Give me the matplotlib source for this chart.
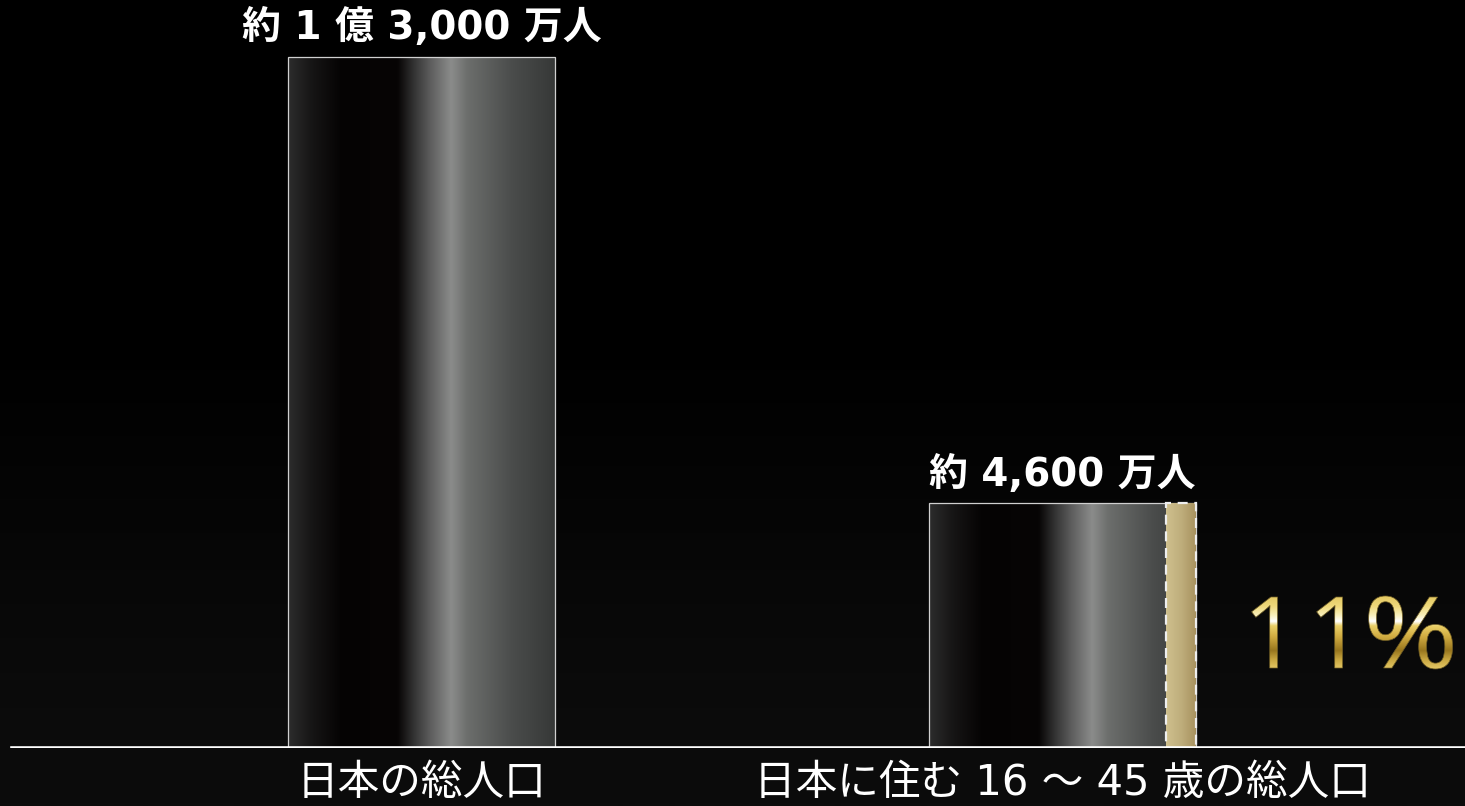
import numpy as np
import matplotlib
matplotlib.use("Agg")
import matplotlib.pyplot as plt
from matplotlib.colors import LinearSegmentedColormap
from matplotlib.patches import Rectangle, PathPatch
from matplotlib.textpath import TextPath
from matplotlib.font_manager import FontProperties
from matplotlib.transforms import Affine2D

# ---- data -------------------------------------------------------------
categories = ["日本の総人口", "日本に住む 16 ～ 45 歳の総人口"]
populations = [13000, 4600]          # 万人
value_labels = ["約 1 億 3,000 万人", "約 4,600 万人"]
share_pct = 11                       # share highlighted on the second bar
share_label = "11%"

# ---- figure -----------------------------------------------------------
W, H, DPI = 1465, 806, 100
fig = plt.figure(figsize=(W / DPI, H / DPI), dpi=DPI)
fig.patch.set_facecolor("black")

JP = "Noto Sans CJK JP"

# background: black fading to a very dark grey towards the floor
bg = fig.add_axes([0, 0, 1, 1], zorder=0)
bg.axis("off")
bg_cmap = LinearSegmentedColormap.from_list(
    "bg", [(0.0, "#000000"), (0.42, "#000000"), (0.62, "#050505"),
           (0.88, "#0b0b0b"), (1.0, "#0c0c0c")])
bg.imshow(np.linspace(0, 1, 400).reshape(-1, 1), aspect="auto", cmap=bg_cmap,
          extent=[0, 1, 0, 1], origin="upper", interpolation="bilinear")
bg.set_xlim(0, 1)
bg.set_ylim(0, 1)

# main plotting axes
base_px = 748
ax = fig.add_axes([0, (H - base_px) / H, 1, base_px / H], zorder=1)
ax.axis("off")
ax.patch.set_alpha(0)
ymax = populations[0] * base_px / 691
xlim = (-0.658, 1.629)
ax.set_xlim(*xlim)
ax.set_ylim(0, ymax)

x = np.arange(len(categories))
bar_w = 0.417

# metallic horizontal gradient used on both bars
metal = LinearSegmentedColormap.from_list(
    "metal", [(0.00, "#2c2c2c"), (0.09, "#161515"), (0.20, "#050303"),
              (0.41, "#070505"), (0.47, "#333333"), (0.53, "#5c5c5c"),
              (0.61, "#8b8c8b"), (0.67, "#6c6e6c"), (0.84, "#4a4c4b"),
              (1.00, "#363837")])
gold_strip = LinearSegmentedColormap.from_list(
    "gold_strip", ["#cfc08e", "#bfae7c", "#a8925f"])
row = np.linspace(0, 1, 512).reshape(1, -1)

bars = ax.bar(x, populations, width=bar_w, facecolor="none",
              edgecolor="#d0d0d0", linewidth=0.9, zorder=3)
for rect in bars:
    x0, w, h = rect.get_x(), rect.get_width(), rect.get_height()
    ax.imshow(row, cmap=metal, aspect="auto", extent=[x0, x0 + w, 0, h],
              interpolation="bilinear", zorder=2)

# highlighted share on the second bar
r2 = bars[1]
x0, w, h = r2.get_x(), r2.get_width(), r2.get_height()
sw = w * share_pct / 100
ax.imshow(row, cmap=gold_strip, aspect="auto",
          extent=[x0 + w - sw, x0 + w, 0, h], interpolation="bilinear", zorder=4)
ax.add_patch(Rectangle((x0 + w - sw, 0), sw, h, facecolor="none",
                       edgecolor="#eeeeee", linewidth=1.6,
                       linestyle=(0, (4.5, 3.0)), zorder=5))
ax.set_xlim(*xlim)
ax.set_ylim(0, ymax)

# floor line
ax.axhline(0, xmin=12 / W, xmax=1, color="white", linewidth=2.6, zorder=6)

# value labels above bars
for xi, v, lab in zip(x, populations, value_labels):
    ax.annotate(lab, (xi, v), xytext=(0, 7), textcoords="offset points",
                ha="center", va="bottom", color="white", fontsize=28,
                family=["DejaVu Sans", JP], fontweight="bold", zorder=7)

# category labels under the floor
for xi, lab in zip(x, categories):
    ax.annotate(lab, (xi, 0), xytext=(0, -25), textcoords="offset points",
                ha="center", va="center", color="white", fontsize=30,
                family=["DejaVu Sans", JP], fontweight="normal", zorder=7)

# ---- gold gradient percentage next to the second bar -------------------
fig.canvas.draw()
px_right, _ = ax.transData.transform((x0 + w, 0))
ov = fig.add_axes([0, 0, 1, 1], zorder=8)
ov.axis("off")
ov.patch.set_alpha(0)
ov.set_xlim(0, W)
ov.set_ylim(0, H)

fp = FontProperties(family="Open Sans", weight="normal")
glyph_h = 71.0
baseline_y = H - 668
offsets = [56, 121, 173]
widths = [None, None, 84.0]
gold_text = LinearSegmentedColormap.from_list(
    "gold_text", [(0.00, "#e2c760"), (0.15, "#efd97c"), (0.27, "#f8f0bc"),
                  (0.35, "#ffffff"), (0.41, "#ead068"), (0.55, "#d2ad42"),
                  (0.74, "#98761e"), (0.86, "#c8a640"), (1.00, "#e8cc6a")])
ref = TextPath((0, 0), "1", size=100, prop=fp).get_extents()
s = glyph_h / ref.height
for ch, off, wd in zip(share_label, offsets, widths):
    tp = TextPath((0, 0), ch, size=100, prop=fp)
    ext = tp.get_extents()
    sx = s if wd is None else wd / ext.width
    tr = (Affine2D().translate(-ext.x0, -ref.y0).scale(sx, s)
          .translate(px_right + off, baseline_y))
    path = tr.transform_path(tp)
    patch = PathPatch(path, facecolor="none", edgecolor="#6e5c24", linewidth=0.5,
                      transform=ov.transData, zorder=10)
    ov.add_patch(patch)
    pe = path.get_extents()
    im = ov.imshow(np.linspace(0, 1, 256).reshape(-1, 1), cmap=gold_text,
                   aspect="auto", origin="upper", interpolation="bilinear",
                   extent=[pe.x0 - 2, pe.x1 + 2, baseline_y - 2, baseline_y + glyph_h + 2],
                   zorder=9)
    im.set_clip_path(patch)
ov.set_xlim(0, W)
ov.set_ylim(0, H)

fig.savefig("out.png", dpi=DPI, facecolor="black")
